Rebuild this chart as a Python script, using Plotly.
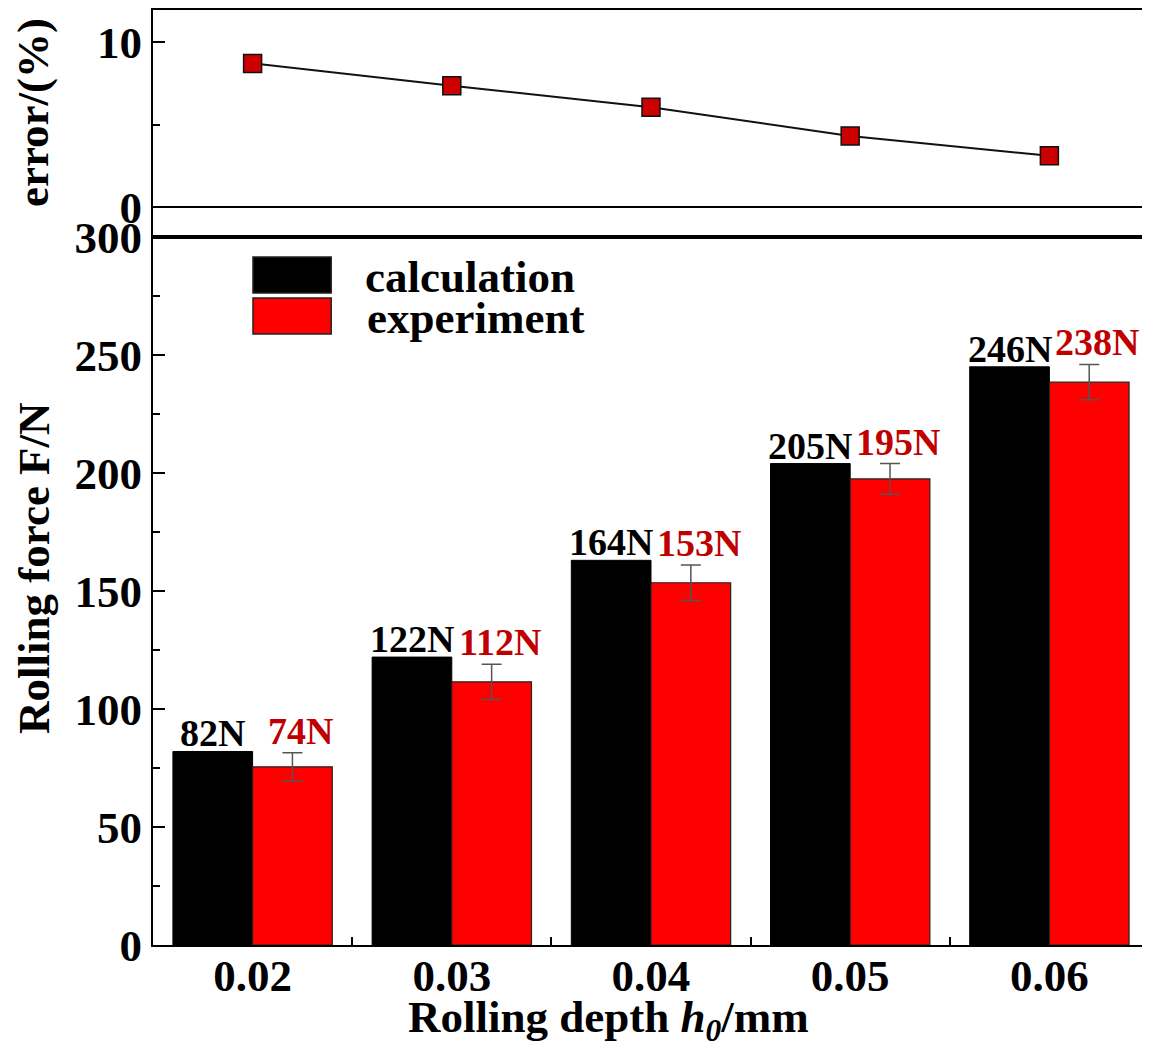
import plotly.graph_objects as go
from plotly.subplots import make_subplots

depth = [0.02, 0.03, 0.04, 0.05, 0.06]
calc = [82, 122, 163, 204, 245]
exper = [75.5, 111.5, 153.5, 197.5, 238.5]
exper_err = [6, 7.5, 7.5, 6.5, 7.5]
calc_labels = ["82N", "122N", "164N", "205N", "246N"]
exper_labels = ["74N", "112N", "153N", "195N", "238N"]
error_pct = [8.7, 7.35, 6.05, 4.3, 3.1]
tick_text = ["0.02", "0.03", "0.04", "0.05", "0.06"]

FONT = "Liberation Serif, Times New Roman, serif"
FS = 45

fig = make_subplots(rows=2, cols=1, shared_xaxes=True, vertical_spacing=0,
                    row_heights=[0.2428, 0.7572])

fig.add_trace(go.Scatter(x=depth, y=error_pct, mode="lines+markers",
                         line=dict(color="#111111", width=2),
                         marker=dict(symbol="square", size=18, color="#cc0000",
                                     line=dict(color="#111111", width=1.5)),
                         showlegend=False), row=1, col=1)

fig.add_trace(go.Bar(x=depth, y=calc, name="calculation", marker_color="#000000",
                     marker_line=dict(color="#000000", width=1), showlegend=False),
              row=2, col=1)
fig.add_trace(go.Bar(x=depth, y=exper, name="experiment", marker_color="#ff0000",
                     marker_line=dict(color="#222222", width=1.2),
                     error_y=dict(type="data", array=exper_err, color="#555555",
                                  thickness=1.5, width=10),
                     showlegend=False), row=2, col=1)

fig.update_layout(barmode="group", bargap=0.2, bargroupgap=0,
                  width=1150, height=1057,
                  margin=dict(l=145, r=15, t=2, b=120, autoexpand=False),
                  plot_bgcolor="white", paper_bgcolor="white",
                  font=dict(family=FONT, size=FS, color="black"))

axis_common = dict(showline=True, linecolor="black", linewidth=2, mirror=True,
                   showgrid=False, automargin=False)

fig.update_xaxes(range=[0.015, 0.0647], **axis_common)
fig.update_xaxes(row=1, col=1, showticklabels=False, ticks="")
fig.update_xaxes(row=2, col=1, tickvals=depth, ticktext=tick_text,
                 ticks="", tickfont=dict(size=FS, family=FONT, weight="bold"),
                 minor=dict(tickvals=[0.025, 0.035, 0.045, 0.055], ticks="inside",
                            ticklen=8, tickwidth=2, tickcolor="black"))
try:
    fig.update_xaxes(row=2, col=1, ticklabelstandoff=-10)
except Exception:
    pass

fig.update_yaxes(row=1, col=1, range=[-1.82, 11.94], tickvals=[0, 10], ticks="inside",
                 ticklen=12, tickwidth=2, tickcolor="black",
                 minor=dict(tickvals=[5], ticks="inside", ticklen=7, tickwidth=2, tickcolor="black"),
                 zeroline=True, zerolinecolor="black", zerolinewidth=2,
                 tickfont=dict(size=FS, family=FONT, weight="bold"),
                 **axis_common)
fig.update_yaxes(row=2, col=1, range=[0, 300], tickvals=[0, 50, 100, 150, 200, 250, 300],
                 ticks="inside", ticklen=12, tickwidth=2, tickcolor="black",
                 minor=dict(dtick=25, ticks="inside", ticklen=7, tickwidth=2, tickcolor="black"),
                 zeroline=False,
                 tickfont=dict(size=FS, family=FONT, weight="bold"),
                 **axis_common)

# Axis titles
title_font = dict(size=FS, family=FONT, weight="bold", color="black")
fig.add_annotation(xref="paper", yref="paper", x=-0.1212, y=0.8898, text="error/(%)",
                   textangle=-90, showarrow=False, xanchor="center", yanchor="middle",
                   font=title_font)
fig.add_annotation(xref="paper", yref="paper", x=-0.1202, y=0.4032, text="Rolling force F/N",
                   textangle=-90, showarrow=False, xanchor="center", yanchor="middle",
                   font=title_font)
fig.add_annotation(xref="paper", yref="paper", x=0.4606, y=-0.0802,
                   text="Rolling depth <i>h</i><sub><i>0</i></sub>/mm",
                   showarrow=False, xanchor="center", yanchor="middle", font=title_font)

for x, v, t in zip(depth, calc, calc_labels):
    fig.add_annotation(x=x - 0.002, y=v, text=t, showarrow=False, yanchor="bottom",
                       yshift=-5, xref="x2", yref="y2",
                       font=dict(size=38, family=FONT, color="black", weight="bold"))
for x, v, e, t in zip(depth, exper, exper_err, exper_labels):
    fig.add_annotation(x=x + 0.002, y=v + e, text=t, showarrow=False, yanchor="bottom",
                       yshift=-1, xshift=8, xref="x2", yref="y2",
                       font=dict(size=38, family=FONT, color="#c00000", weight="bold"))

# Legend (drawn manually to match big swatches)
fig.add_shape(type="rect", xref="paper", yref="paper", x0=0.101, x1=0.180, y0=0.6973, y1=0.7358,
              fillcolor="#000000", line=dict(color="#222222", width=1.5))
fig.add_shape(type="rect", xref="paper", yref="paper", x0=0.101, x1=0.180, y0=0.6535, y1=0.692,
              fillcolor="#ff0000", line=dict(color="#222222", width=1.5))
fig.add_annotation(xref="paper", yref="paper", x=0.212, y=0.7144, text="calculation",
                   showarrow=False, xanchor="left", yanchor="middle",
                   font=dict(size=FS, family=FONT, weight="bold"))
fig.add_annotation(xref="paper", yref="paper", x=0.214, y=0.6706, text="experiment",
                   showarrow=False, xanchor="left", yanchor="middle",
                   font=dict(size=FS, family=FONT, weight="bold"))

fig.write_html("out.html")
